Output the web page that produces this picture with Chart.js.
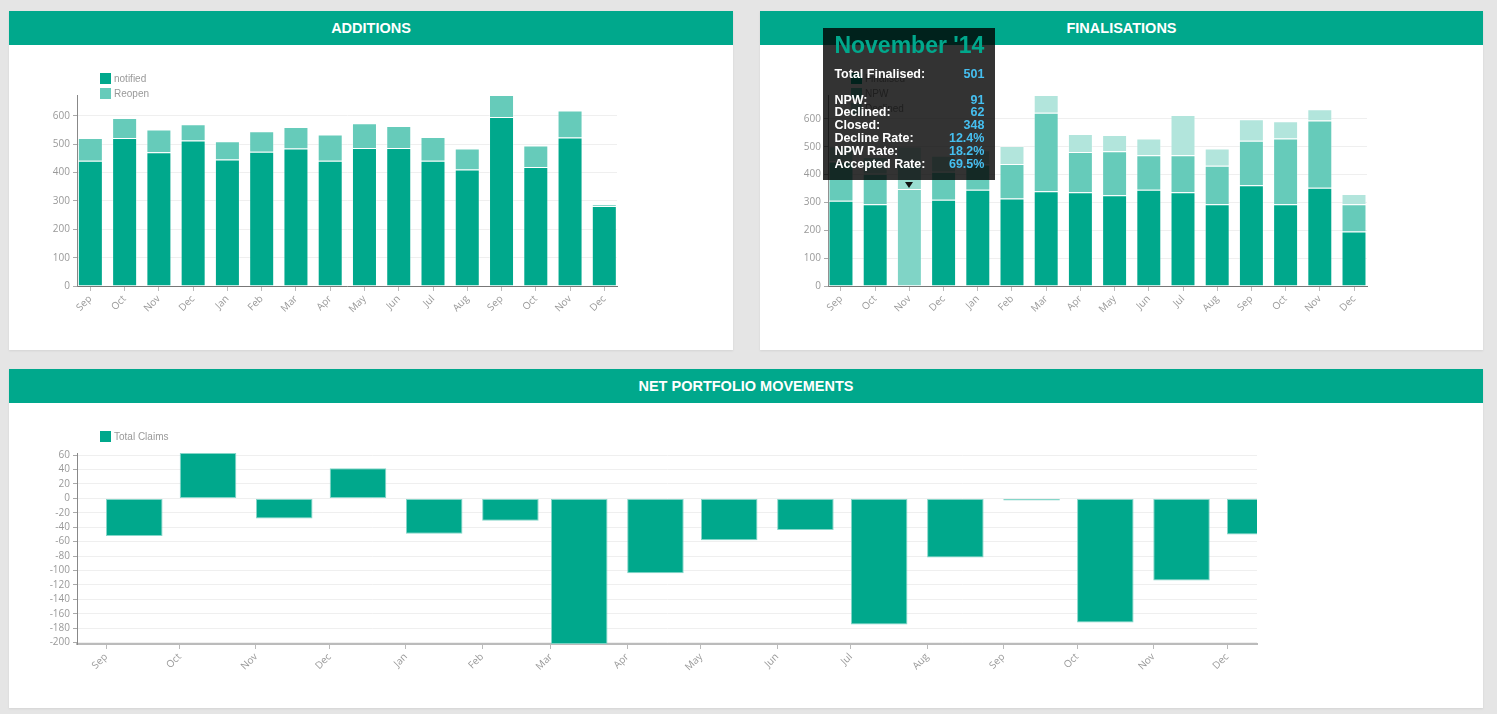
<!DOCTYPE html>
<html>
<head>
<meta charset="utf-8">
<title>Claims dashboard</title>
<script src="https://cdn.jsdelivr.net/npm/chart.js@4.4.1/dist/chart.umd.min.js"></script>
<style>
  html, body { margin: 0; padding: 0; background: #e5e5e5; }
  body { width: 1497px; height: 714px; position: relative; overflow: hidden; font-family: "Liberation Sans", Arial, sans-serif; }
  .panel { position: absolute; background: #fff; box-shadow: 0 1px 2px rgba(0,0,0,0.08); }
  .panel h2 { margin: 0; height: 34px; line-height: 34px; background: #00a88c; color: #fff; text-align: center; font-size: 14.5px; font-weight: bold; }
  .body { position: relative; height: 305px; }
  .legend { position: absolute; left: 91px; top: 28px; font-size: 10px; color: #999; }
  .legend div { height: 15px; display: flex; align-items: flex-start; }
  .legend i { display: inline-block; width: 11px; height: 11px; margin-right: 3px; }
  .legend span { line-height: 12px; }
  #tip { position: absolute; z-index: 10; width: 172px; box-sizing: border-box; padding: 4px 11px 10px 11px; background: rgba(0,0,0,0.8); color: #fff; font-weight: bold; display: none; }
  #tip .title { font-size: 23px; line-height: 26px; color: #00a88c; margin-bottom: 10px; white-space: nowrap; }
  #tip table { width: 100%; border-collapse: collapse; font-size: 12.5px; line-height: 12.8px; }
  #tip td { padding: 0; white-space: nowrap; }
  #tip td.v { text-align: right; color: #45bff0; }
  #tip .arrow { position: absolute; left: 50%; bottom: -8px; margin-left: -4px; width: 0; height: 0; border-left: 4px solid transparent; border-right: 4px solid transparent; border-top: 6px solid #111; }
</style>
</head>
<body>

<div class="panel" style="left:9px;top:11px;width:724px;height:339px">
  <h2>ADDITIONS</h2>
  <div class="body"><canvas id="additions"></canvas><div class="legend" id="legAdditions"></div></div>
</div>

<div class="panel" style="left:760px;top:11px;width:723px;height:339px">
  <h2>FINALISATIONS</h2>
  <div class="body"><canvas id="finalisations"></canvas><div class="legend" id="legFinalisations"></div></div>
</div>

<div class="panel" style="left:9px;top:369px;width:1474px;height:339px">
  <h2>NET PORTFOLIO MOVEMENTS</h2>
  <div class="body"><canvas id="portfolio"></canvas><div class="legend" id="legPortfolio"></div></div>
</div>

<div id="tip"></div>

<script>
'use strict';

/* 데이터 */
var months = ['Sep','Oct','Nov','Dec','Jan','Feb','Mar','Apr','May','Jun','Jul','Aug','Sep','Oct','Nov','Dec'];
var monthStarts = ['2014-09','2014-10','2014-11','2014-12','2015-01','2015-02','2015-03','2015-04','2015-05','2015-06','2015-07','2015-08','2015-09','2015-10','2015-11','2015-12'];
var monthNames = ['January','February','March','April','May','June','July','August','September','October','November','December'];

var notified = [442,522,472,513,446,474,485,442,487,487,442,411,596,420,524,282];
var reopen   = [80,71,80,58,65,72,76,93,87,78,84,74,78,76,95,6];

var finClosed   = [306,294,348,310,346,314,340,337,326,346,337,294,362,294,353,196];
var finNpw      = [141,109,91,100,90,124,282,144,158,124,133,138,160,236,241,98];
var finDeclined = [55,60,62,58,52,65,64,65,58,60,144,62,77,62,41,36];

var totalClaims = [-52,63,-28,42,-49,-31,-202,-104,-58,-44,-175,-82,-3,-172,-114,-50];

var hoverIndex = 2; // November '14

var teal = '#00a88c', tealMid = '#66cbba', tealLight = '#b2e5dc';
var edge = 'rgba(255,255,255,0.35)';

Chart.defaults.font.family = '"Open Sans", "Liberation Sans", sans-serif';
Chart.defaults.font.size = 10;
Chart.defaults.color = '#999';
Chart.defaults.animation = false;

/* 보조 함수 */
function dayOf(ym) {
  var p = ym.split('-');
  return (Date.UTC(+p[0], +p[1] - 1, 1) - Date.UTC(2014, 8, 1)) / 864e5;
}
var monthDays = monthStarts.map(dayOf);

function xy(values) {
  return values.map(function(v, i){ return {x: i, y: v}; });
}
function sumAt(lists, i) {
  return lists.reduce(function(s, l){ return s + l[i]; }, 0);
}
function stepTicks(step) {
  return function(scale) {
    var ticks = [];
    for (var v = Math.ceil(scale.min / step) * step; v <= scale.max + 1e-9; v += step) ticks.push({value: v});
    scale.ticks = ticks;
  };
}
function valueTicks(values) {
  return function(scale) {
    scale.ticks = values.map(function(v){ return {value: v}; });
  };
}
function monthLabel(value, index) { return months[index]; }

function options(o) {
  return {
    responsive: true,
    maintainAspectRatio: false,
    animation: false,
    layout: {padding: {top: 50, right: o.right, left: 0, bottom: 0}},
    plugins: {legend: {display: false}, tooltip: o.tooltip || {enabled: false}},
    hover: {mode: 'index', intersect: false},
    scales: {
      x: {
        type: 'linear', min: o.xMin, max: o.xMax, stacked: true, bounds: 'data', offset: false,
        afterBuildTicks: o.xTicks,
        afterFit: function(s){ s.height = 64; },
        grid: {offset: false, drawOnChartArea: false, drawTicks: true, tickLength: 5, tickColor: '#bbb'},
        border: {color: o.xBorder || '#777', width: o.xBorderWidth || 1},
        ticks: {autoSkip: false, minRotation: 45, maxRotation: 45, padding: 2, color: '#999', callback: monthLabel}
      },
      y: {
        stacked: true, min: o.yMin, max: o.yMax, bounds: 'data',
        afterBuildTicks: stepTicks(o.yStep),
        afterFit: function(s){ s.width = 68; },
        grid: {color: '#efefef', tickLength: 4, tickColor: '#aaa'},
        border: {color: '#888'},
        ticks: {autoSkip: false, padding: 3, color: '#999'}
      }
    }
  };
}

function htmlLegend(chart, id) {
  document.getElementById(id).innerHTML = chart.data.datasets.map(function(d){
    return '<div><i style="background:' + d.backgroundColor + '"></i><span>' + d.label + '</span></div>';
  }).join('');
}

function bar(label, values, color, hover) {
  return {
    label: label, data: xy(values),
    backgroundColor: color, hoverBackgroundColor: hover || color,
    borderColor: edge, hoverBorderColor: edge, borderWidth: 1,
    barPercentage: 0.73, categoryPercentage: 1
  };
}

/* additions */
var addTotals = notified.map(function(v, i){ return sumAt([notified, reopen], i); });
var additions = new Chart(document.getElementById('additions'), {
  type: 'bar',
  data: {datasets: [bar('notified', notified, teal), bar('Reopen', reopen, tealMid)]},
  options: options({right: 116, xMin: -0.39, xMax: 15.37, xTicks: valueTicks(months.map(function(m, i){ return i; })),
                    yMin: 0, yMax: Math.max.apply(null, addTotals), yStep: 100})
});
htmlLegend(additions, 'legAdditions');

/* finalisations */
function finalTooltip(context) {
  var tip = document.getElementById('tip');
  var model = context.tooltip;
  if (model.opacity === 0 || !model.dataPoints || !model.dataPoints.length) { tip.style.display = 'none'; return; }
  var i = model.dataPoints[0].dataIndex;
  var total = sumAt([finClosed, finNpw, finDeclined], i);
  var pct = function(v){ return (v / total * 100).toFixed(1) + '%'; };
  var p = monthStarts[i].split('-');
  var rows = [
    ['Total Finalised:', total], ['&nbsp;', ''],
    ['NPW:', finNpw[i]], ['Declined:', finDeclined[i]], ['Closed:', finClosed[i]],
    ['Decline Rate:', pct(finDeclined[i])], ['NPW Rate:', pct(finNpw[i])], ['Accepted Rate:', pct(finClosed[i])]
  ];
  tip.innerHTML = '<div class="title">' + monthNames[+p[1] - 1] + " '" + p[0].slice(2) + '</div><table>' +
    rows.map(function(r){ return '<tr><td>' + r[0] + '</td><td class="v">' + r[1] + '</td></tr>'; }).join('') +
    '</table><div class="arrow"></div>';
  tip.style.display = 'block';
  var rect = context.chart.canvas.getBoundingClientRect();
  tip.style.left = (rect.left + model.caretX - tip.offsetWidth / 2) + 'px';
  tip.style.top = (rect.top + model.caretY - tip.offsetHeight - 9) + 'px';
}

var finTotals = finClosed.map(function(v, i){ return sumAt([finClosed, finNpw, finDeclined], i); });
var finalisations = new Chart(document.getElementById('finalisations'), {
  type: 'bar',
  data: {datasets: [
    bar('Finalised', finClosed, teal, '#80d4c6'),
    bar('NPW', finNpw, tealMid, '#99ddd1'),
    bar('Declined', finDeclined, tealLight, '#cceee8')
  ]},
  options: options({right: 116, xMin: -0.38, xMax: 15.38, xTicks: valueTicks(months.map(function(m, i){ return i; })),
                    yMin: 0, yMax: Math.max.apply(null, finTotals), yStep: 100,
                    tooltip: {enabled: false, external: finalTooltip}})
});
htmlLegend(finalisations, 'legFinalisations');
finalisations.setActiveElements([0, 1, 2].map(function(d){ return {datasetIndex: d, index: hoverIndex}; }));
finalisations.update();
finalisations.tooltip.setActiveElements([{datasetIndex: 0, index: hoverIndex}], {x: 0, y: 0});

/* net portfolio movements */
var barDays = 23;
var shortestMonth = Math.min.apply(null, monthDays.slice(1).map(function(d, i){ return d - monthDays[i]; }));
var portfolio = new Chart(document.getElementById('portfolio'), {
  type: 'bar',
  data: {datasets: [{
    label: 'Total Claims',
    data: totalClaims.map(function(v, i){ return {x: monthDays[i] + barDays / 2, y: v}; }),
    backgroundColor: teal, borderColor: 'rgba(120,210,195,0.9)', borderWidth: 1, borderSkipped: false,
    barPercentage: barDays / shortestMonth, categoryPercentage: 1
  }]},
  options: options({right: 226, xMin: -11.8, xMax: 468.2, xTicks: valueTicks(monthDays),
                    xBorder: '#bbb', xBorderWidth: 2,
                    yMin: Math.min.apply(null, totalClaims), yMax: Math.max.apply(null, totalClaims), yStep: 20})
});
htmlLegend(portfolio, 'legPortfolio');
</script>
</body>
</html>
